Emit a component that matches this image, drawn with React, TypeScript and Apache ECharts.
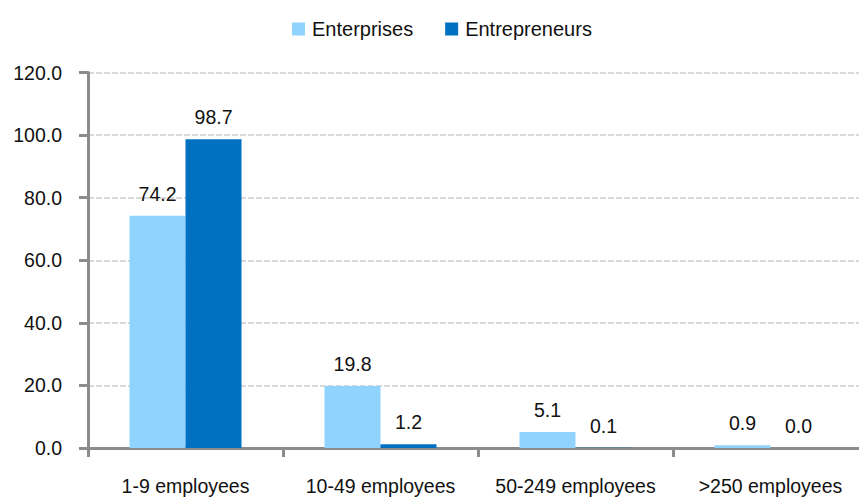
import React, { useEffect, useRef } from "react";
import * as echarts from "echarts";

const categories = ["1-9 employees", "10-49 employees", "50-249 employees", ">250 employees"];
const enterprises = [74.2, 19.8, 5.1, 0.9];
const entrepreneurs = [98.7, 1.2, 0.1, 0.0];
const seriesNames = ["Enterprises", "Entrepreneurs"];

const FONT = "'Liberation Sans', Arial, sans-serif";

export default function App() {
  const ref = useRef<HTMLDivElement>(null);
  useEffect(() => {
    if (!ref.current) return;
    const chart = echarts.init(ref.current, undefined, { renderer: "svg" });
    const label = {
      show: true,
      position: "top",
      distance: 12,
      color: "#111",
      fontSize: 19.5,
      fontFamily: FONT,
      formatter: (p: any) => Number(p.value).toFixed(1),
    };
    chart.setOption({
      animation: false,
      backgroundColor: "#fff",
      textStyle: { fontFamily: FONT },
      legend: {
        left: 287,
        top: 14,
        itemWidth: 13,
        itemHeight: 13,
        itemGap: 32,
        icon: "rect",
        textStyle: { fontSize: 20, color: "#111", fontFamily: FONT, padding: [0, 0, 0, 2] },
        data: seriesNames,
      },
      grid: {
        left: 88,
        width: 780,
        top: 72.5,
        bottom: 50,
        containLabel: false,
        outerBoundsMode: "none",
      },
      xAxis: {
        type: "category",
        data: categories,
        axisLine: { lineStyle: { color: "#8c8c8c", width: 3 } },
        axisTick: { show: true, length: 9, lineStyle: { color: "#8c8c8c", width: 3 } },
        axisLabel: { margin: 28, interval: 0, fontSize: 19.5, color: "#111", fontFamily: FONT },
      },
      yAxis: {
        type: "value",
        min: 0,
        max: 120,
        interval: 20,
        axisLine: { show: true, lineStyle: { color: "#8c8c8c", width: 3 } },
        axisTick: { show: true, length: 9, lineStyle: { color: "#8c8c8c", width: 3 } },
        axisLabel: {
          margin: 26,
          fontSize: 19.5,
          color: "#111",
          fontFamily: FONT,
          formatter: (v: number) => v.toFixed(1),
        },
        splitLine: { show: true, lineStyle: { color: "#d9d9d9", width: 2, type: [6, 2] } },
      },
      series: [
        {
          name: seriesNames[0],
          type: "bar",
          data: enterprises,
          barWidth: 56,
          barGap: "0%",
          itemStyle: { color: "#8FD3FE" },
          label,
        },
        {
          name: seriesNames[1],
          type: "bar",
          data: entrepreneurs,
          barWidth: 56,
          barGap: "0%",
          itemStyle: { color: "#0070C0" },
          label,
        },
      ],
    });
    return () => chart.dispose();
  }, []);
  return <div ref={ref} style={{ width: 859, height: 498, position: "fixed", left: 0, top: 0 }} />;
}
